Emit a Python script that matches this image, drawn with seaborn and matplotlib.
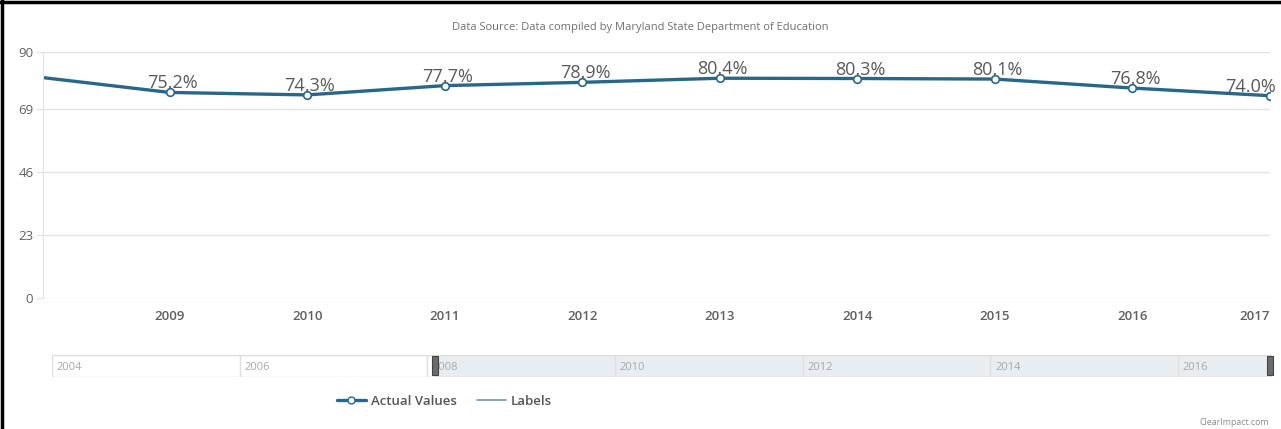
import matplotlib
matplotlib.use("Agg")
import matplotlib.pyplot as plt
import seaborn as sns
import pandas as pd
from matplotlib.lines import Line2D
from matplotlib.patches import Rectangle

# Graduation rate by school year
years = [2008, 2009, 2010, 2011, 2012, 2013, 2014, 2015, 2016, 2017]
rates = [81.1, 75.2, 74.3, 77.7, 78.9, 80.4, 80.3, 80.1, 76.8, 74.0]
y_ticks = [0, 23, 46, 69, 90]
nav_years = [2004, 2006, 2008, 2010, 2012, 2014, 2016]
view_start = 2008.08
view_end = 2017.0
nav_start = 2004
nav_end = 2017

title_text = "Data Source: Data compiled by Maryland State Department of Education"
credit_text = "ClearImpact.com"

line_color = "#29678a"
grid_color = "#e3e3e3"
text_gray = "#606060"

df = pd.DataFrame({"year": years, "rate": rates})

sns.set_theme(style="white")
plt.rcParams["font.family"] = ["Open Sans", "DejaVu Sans"]

fig = plt.figure(figsize=(12.81, 4.29), dpi=100)
fig.patch.set_facecolor("white")

# Main chart
ax = fig.add_axes([0.0336, 0.3054, 0.9578, 0.5734])
sns.lineplot(data=df, x="year", y="rate", ax=ax, color=line_color, linewidth=2.4,
             marker="o", markersize=5.5, markerfacecolor="white",
             markeredgecolor=line_color, markeredgewidth=1.2, clip_on=True)
ax.set_xlim(view_start, view_end)
ax.set_ylim(0, 90)
ax.set_yticks(y_ticks)
ax.set_yticklabels([str(t) for t in y_ticks], fontsize=9.5, color=text_gray)
ax.set_xticks(years[1:])
ax.set_xticklabels([str(y) for y in years[1:]], fontsize=9.5, color=text_gray,
                   fontweight="semibold")
ax.get_xticklabels()[-1].set_horizontalalignment("right")
ax.tick_params(axis="x", length=0, pad=9)
ax.tick_params(axis="y", length=5, width=0.8, color=grid_color, pad=2, left=True)
ax.set_xlabel("")
ax.set_ylabel("")
ax.grid(axis="y", color=grid_color, linewidth=1)
ax.grid(axis="x", visible=False)
for side in ["top", "right", "bottom"]:
    ax.spines[side].set_visible(False)
ax.spines["left"].set_color(grid_color)
ax.spines["left"].set_linewidth(0.8)
ax.set_axisbelow(True)

# Value labels
for yr, val in zip(years, rates):
    if yr < view_start:
        continue
    dx = -14 if yr == years[-1] else 2
    ax.annotate(f"{val:.1f}%", (yr, val), xytext=(dx, 0), textcoords="offset points",
                ha="center", va="bottom", fontsize=13, color="#595959")

# Navigator strip
nav = fig.add_axes([0.0406, 0.1212, 0.9524, 0.0513])
nav.set_xlim(nav_start, nav_end)
nav.set_ylim(0, 1)
nav.axvspan(view_start, view_end, color="#e8edf2", zorder=0)
for yr in nav_years:
    nav.axvline(yr, color="#e0e0e0", linewidth=1, zorder=1)
    nav.text(yr + 0.05, 0.45, str(yr), fontsize=8, color="#a8a8a8", va="center", ha="left")
nav.axhline(1, color="#dcdcdc", linewidth=1)
nav.axhline(0, color="#dcdcdc", linewidth=1)
for hx in [view_start, view_end - 0.02]:
    nav.add_patch(Rectangle((hx - 0.035, 0.1), 0.07, 0.85, facecolor="#6b6b6b",
                            edgecolor="#444444", linewidth=0.8, zorder=5, clip_on=False))
nav.set_xticks([])
nav.set_yticks([])
for s in nav.spines.values():
    s.set_visible(False)

# Title and credit
fig.text(0.5, 0.935, title_text, ha="center", va="center", fontsize=8, color="#707070")
fig.text(0.991, 0.016, credit_text, ha="right", va="center", fontsize=6.3, color="#8a8a8a")

# Legend
handles = [
    Line2D([], [], color=line_color, linewidth=2.4, marker="o", markersize=5,
           markerfacecolor="white", markeredgecolor=line_color),
    Line2D([], [], color="#6f94b5", linewidth=1.2),
]
fig.legend(handles, ["Actual Values", "Labels"], loc="center", bbox_to_anchor=(0.347, 0.064),
           ncol=2, frameon=False, handlelength=2.2, columnspacing=1.5,
           handletextpad=0.4, labelcolor="#555555",
           prop={"weight": "semibold", "size": 9.5})

# Frame lines at top and left
fig.add_artist(Line2D([0, 1], [0.9965, 0.9965], transform=fig.transFigure,
                      color="black", linewidth=2.5))
fig.add_artist(Line2D([0.0012, 0.0012], [0, 1], transform=fig.transFigure,
                      color="black", linewidth=2.5))

fig.savefig("out.png", dpi=100, facecolor="white")
